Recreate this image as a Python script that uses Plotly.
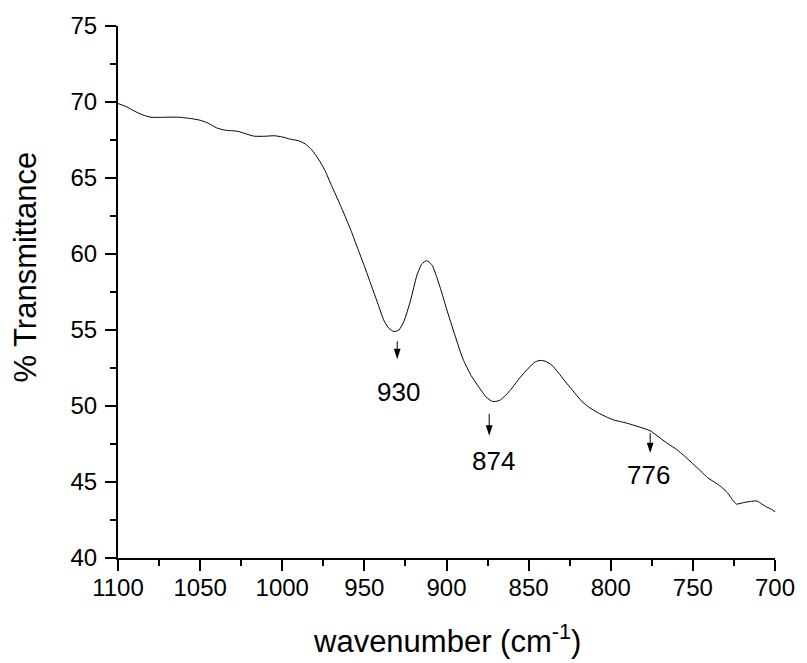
import plotly.graph_objects as go

# IR spectrum: wavenumber (cm-1) vs % transmittance
wavenumber = [1100, 1095, 1090, 1085, 1080, 1070, 1063, 1055, 1050, 1045, 1040, 1035,
              1027, 1022, 1017, 1010, 1005, 1000, 995, 990, 986, 982, 978, 974, 970,
              966, 962, 958, 954, 950, 946, 942, 938, 935, 932, 929, 926, 922, 918,
              915, 912, 909, 906, 903, 900, 895, 890, 885, 880, 876, 872, 868, 864,
              860, 855, 850, 846, 843, 840, 836, 832, 828, 823, 818, 813, 808, 803,
              798, 793, 788, 782, 776, 770, 765, 760, 755, 750, 745, 741, 737, 733,
              729, 726, 723.5, 719, 715, 711, 708, 705, 702, 700]
transmittance = [69.9, 69.7, 69.4, 69.15, 69.0, 69.0, 69.0, 68.9, 68.8, 68.6, 68.3, 68.15,
                 68.07, 67.9, 67.75, 67.75, 67.78, 67.7, 67.55, 67.45, 67.24, 66.85, 66.25,
                 65.5, 64.5, 63.55, 62.55, 61.5, 60.35, 59.2, 58.0, 56.8, 55.6, 55.1, 54.9,
                 55.0, 55.55, 56.9, 58.6, 59.35, 59.56, 59.3, 58.5, 57.5, 56.4, 54.7, 53.1,
                 52.0, 51.2, 50.6, 50.3, 50.35, 50.7, 51.2, 51.9, 52.5, 52.9, 53.0, 52.95,
                 52.7, 52.2, 51.65, 51.0, 50.35, 49.9, 49.57, 49.3, 49.07, 48.95, 48.8,
                 48.6, 48.37, 47.9, 47.5, 47.15, 46.7, 46.2, 45.7, 45.28, 45.0, 44.7, 44.3,
                 43.85, 43.55, 43.65, 43.72, 43.75, 43.55, 43.35, 43.2, 43.03]

# Marked absorption bands
band_labels = [930, 874, 776]

# arrow tail / head heights (% T) and label placement for each band
arrow_tail = [54.26, 49.49, 48.20]
arrow_head = [53.08, 48.05, 46.90]
label_x = [929.4, 871.1, 777.3]
label_y = [50.93, 46.35, 45.43]

FONT = "Liberation Sans, Arial, sans-serif"

fig = go.Figure()
fig.add_trace(go.Scatter(
    x=wavenumber, y=transmittance, mode="lines",
    line=dict(color="black", width=1, shape="spline", smoothing=0.6),
    showlegend=False, hoverinfo="skip",
))

# downward arrows: a thin shaft plus a narrow filled head whose tip sits at the head point
shaft_x, shaft_y = [], []
for band, tail, head in zip(band_labels, arrow_tail, arrow_head):
    shaft_x += [band, band, None]
    shaft_y += [tail, head + 0.2, None]
fig.add_trace(go.Scatter(
    x=shaft_x, y=shaft_y, mode="lines", line=dict(color="black", width=1),
    showlegend=False, hoverinfo="skip",
))
fig.add_trace(go.Scatter(
    x=band_labels, y=arrow_head, mode="markers",
    marker=dict(symbol="arrow", angle=180, size=11, color="black", line=dict(width=0)),
    showlegend=False, hoverinfo="skip",
))

annotations = []
for band, lx, ly in zip(band_labels, label_x, label_y):
    annotations.append(dict(
        x=lx, y=ly, xref="x", yref="y", text=str(band), showarrow=False,
        font=dict(family=FONT, size=26, color="black"),
        xanchor="center", yanchor="middle",
    ))

# axis titles
annotations.append(dict(
    x=-0.14, y=0.546, xref="paper", yref="paper", text="% Transmittance",
    textangle=-90, showarrow=False, xanchor="center", yanchor="middle",
    font=dict(family=FONT, size=31, color="black"),
))
annotations.append(dict(
    x=0.5, y=-0.153, xref="paper", yref="paper", text="wavenumber (cm<sup>-1</sup>)",
    showarrow=False, xanchor="center", yanchor="middle",
    font=dict(family=FONT, size=31, color="black"),
))

axis_common = dict(
    showgrid=False, zeroline=False, showline=True, linecolor="black", linewidth=2,
    ticks="outside", ticklen=11, tickwidth=2, tickcolor="black",
    tickfont=dict(family=FONT, size=24, color="black"),
    mirror=False,
)

fig.update_layout(
    width=807, height=663,
    margin=dict(l=118, r=24, t=23, b=105),
    paper_bgcolor="white", plot_bgcolor="white",
    xaxis=dict(range=[1100, 700], tickmode="linear", tick0=700, dtick=50,
               minor=dict(ticks="outside", ticklen=6, tickwidth=2, tickcolor="black", dtick=25),
               ticklabelstandoff=-4, **axis_common),
    yaxis=dict(range=[40, 75], tickmode="linear", tick0=40, dtick=5,
               minor=dict(ticks="outside", ticklen=6, tickwidth=2, tickcolor="black", dtick=2.5),
               ticklabelstandoff=3, **axis_common),
    annotations=annotations,
)

fig.write_html("out.html")
